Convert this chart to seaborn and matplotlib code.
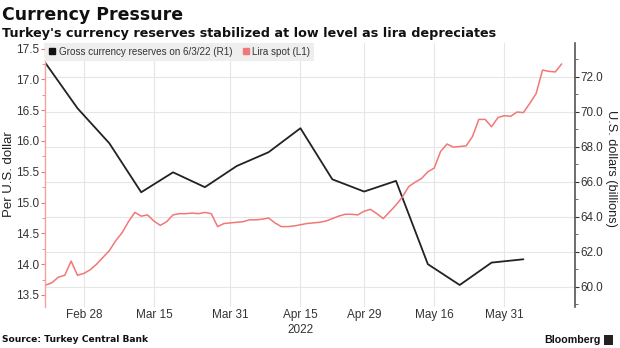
import numpy as np
import pandas as pd
import matplotlib
matplotlib.use("Agg")
import matplotlib.pyplot as plt
from matplotlib.lines import Line2D
from matplotlib.ticker import MultipleLocator, FormatStrFormatter, FixedLocator
import seaborn as sns

# ---------------- data ----------------
start_date = "2022-02-18"
end_date = "2022-06-13"

lira_spot = [13.66, 13.70, 13.79, 13.82, 14.05, 13.82, 13.85, 13.91, 14.00, 14.11,
             14.22, 14.38, 14.51, 14.69, 14.84, 14.78, 14.80, 14.70, 14.63, 14.69,
             14.80, 14.82, 14.82, 14.83, 14.82, 14.84, 14.82, 14.61, 14.66, 14.67,
             14.68, 14.69, 14.72, 14.72, 14.73, 14.75, 14.67, 14.61, 14.61, 14.62,
             14.64, 14.66, 14.67, 14.68, 14.70, 14.74, 14.78, 14.81, 14.81, 14.80,
             14.86, 14.89, 14.82, 14.74, 14.85, 14.96, 15.09, 15.26, 15.33, 15.39,
             15.50, 15.56, 15.83, 15.95, 15.90, 15.91, 15.92, 16.07, 16.35, 16.35,
             16.23, 16.38, 16.41, 16.40, 16.47, 16.46, 16.61, 16.77, 17.15, 17.13,
             17.12, 17.25]

reserve_dates = ["2022-02-18", "2022-02-25", "2022-03-04", "2022-03-11", "2022-03-18",
                 "2022-03-25", "2022-04-01", "2022-04-08", "2022-04-15", "2022-04-22",
                 "2022-04-29", "2022-05-06", "2022-05-13", "2022-05-20", "2022-05-27",
                 "2022-06-03"]
reserves = [72.78, 70.21, 68.21, 65.41, 66.55, 65.70, 66.91, 67.70, 69.07, 66.15,
            65.45, 66.06, 61.30, 60.11, 61.39, 61.58]

tick_dates = ["2022-02-28", "2022-03-15", "2022-03-31", "2022-04-15",
              "2022-04-29", "2022-05-16", "2022-05-31"]
tick_labels = ["Feb 28", "Mar 15", "Mar 31", "Apr 15\n2022", "Apr 29", "May 16", "May 31"]

left_ticks = [13.5, 14.0, 14.5, 15.0, 15.5, 16.0, 16.5, 17.0, 17.5]
right_ticks = [60.0, 62.0, 64.0, 66.0, 68.0, 70.0, 72.0]

title = "Currency Pressure"
subtitle = "Turkey's currency reserves stabilized at low level as lira depreciates"
source = "Source: Turkey Central Bank"
res_label = "Gross currency reserves on 6/3/22 (R1)"
lira_label = "Lira spot (L1)"

# ---------------- trading-day axis ----------------
days = pd.bdate_range(start_date, end_date)
pos = np.arange(len(days))
lira_df = pd.DataFrame({"pos": pos, "lira": lira_spot})
res_df = pd.DataFrame({"pos": days.get_indexer(pd.to_datetime(reserve_dates)),
                       "reserves": reserves})
tick_pos = days.get_indexer(pd.to_datetime(tick_dates))

# ---------------- style ----------------
sns.set_theme(style="white")
plt.rcParams["font.family"] = ["Liberation Sans", "DejaVu Sans"]

PINK = "#f27777"
BLACK = "#222222"
GRID = "#e6e6e6"

fig = plt.figure(figsize=(6.2, 3.48), dpi=100)
W, H = 620, 348
L, R, T, B = 45, 575, 43, 306.7
ax = fig.add_axes([L / W, 1 - B / H, (R - L) / W, (B - T) / H])   # reserves (right axis)
ax2 = ax.twinx()                                                  # lira (left axis)

# reserves on bottom axes (holds grid)
sns.lineplot(data=res_df, x="pos", y="reserves", ax=ax, color=BLACK, linewidth=1.3)
ax.set_xlim(-0.1, 83.1)
ax.set_ylim(58.87, 73.94)
ax.yaxis.tick_right()
ax.yaxis.set_label_position("right")
ax.yaxis.set_major_locator(FixedLocator(right_ticks))
ax.yaxis.set_minor_locator(MultipleLocator(1.0))
ax.yaxis.set_major_formatter(FormatStrFormatter("%.1f"))
ax.set_ylabel("U.S. dollars (billions)", fontsize=9.2, color="#222", rotation=270,
              va="center", ha="center")
ax.yaxis.set_label_coords((611 - L) / (R - L), (B - 169) / (B - T))
ax.set_xlabel("")
ax.set_xticks(tick_pos)
ax.set_xticklabels(tick_labels, fontsize=8.5, color="#333", linespacing=1.25)
ax.tick_params(axis="x", length=0, pad=2)
ax.tick_params(axis="y", which="major", right=True, left=False, length=3, width=0.8,
               color="#333", labelsize=8.4, labelcolor="#333", pad=1.0, direction="out")
ax.tick_params(axis="y", which="minor", right=True, left=False, length=2, width=0.6,
               color="#555", direction="out")
ax.grid(True, axis="both", color=GRID, linewidth=0.8)
ax.set_axisbelow(True)
for s in ["top", "bottom", "left"]:
    ax.spines[s].set_visible(False)
ax.spines["right"].set_color("#555")
ax.spines["right"].set_linewidth(1.2)

# lira on twin axes
sns.lineplot(data=lira_df, x="pos", y="lira", ax=ax2, color=PINK, linewidth=1.1)
ax2.set_ylim(13.31, 17.59)
ax2.yaxis.tick_left()
ax2.yaxis.set_label_position("left")
ax2.yaxis.set_major_locator(FixedLocator(left_ticks))
ax2.yaxis.set_minor_locator(MultipleLocator(0.25))
ax2.yaxis.set_major_formatter(FormatStrFormatter("%.1f"))
ax2.set_ylabel("Per U.S. dollar", fontsize=9.5, color="#222", va="center", ha="center")
ax2.yaxis.set_label_coords((9 - L) / (R - L), (B - 174) / (B - T))
ax2.tick_params(axis="y", which="major", left=True, right=False, length=3, width=0.8,
                color=PINK, labelsize=8.5, labelcolor="#333", pad=1.5, direction="out")
ax2.tick_params(axis="y", which="minor", left=True, right=False, length=2, width=0.6,
                color=PINK, direction="out")
ax2.grid(False)
for s in ["top", "bottom", "right"]:
    ax2.spines[s].set_visible(False)
ax2.spines["left"].set_color("#f4a3a3")
ax2.spines["left"].set_linewidth(1.0)

# legend
handles = [Line2D([], [], marker="s", linestyle="none", color="#111", markersize=5),
           Line2D([], [], marker="s", linestyle="none", color=PINK, markersize=5)]
leg = ax2.legend(handles, [res_label, lira_label], loc="upper left",
                 bbox_to_anchor=(0.0, 1.0), ncol=2, fontsize=7.1, frameon=True,
                 fancybox=False, facecolor="#eeeeee", edgecolor="none", framealpha=1,
                 handlelength=0.7, handletextpad=0.3, columnspacing=1.0,
                 borderpad=0.4, borderaxespad=0.0)
for t in leg.get_texts():
    t.set_color("#333")

# titles & footer
fig.text(2 / W, 1 - 15 / H, title, fontsize=12.5, fontweight="bold",
         family=["DejaVu Sans"], va="center", ha="left", color="#111")
fig.text(2 / W, 1 - 33 / H, subtitle, fontsize=9.2, fontweight="bold",
         family=["DejaVu Sans"], va="center", ha="left", color="#111")
fig.text(2 / W, 1 - 340 / H, source, fontsize=6.6, fontweight="bold",
         family=["DejaVu Sans"], va="center", ha="left", color="#111")
fig.text(601 / W, 1 - 340 / H, "Bloomberg", fontsize=7.7, fontweight="bold",
         va="center", ha="right", color="#111")
fig.patches.append(plt.Rectangle((604 / W, 1 - 345 / H), 9 / W, 10 / H,
                                 transform=fig.transFigure, facecolor="#222",
                                 edgecolor="none"))

fig.savefig("out.png", dpi=100)
